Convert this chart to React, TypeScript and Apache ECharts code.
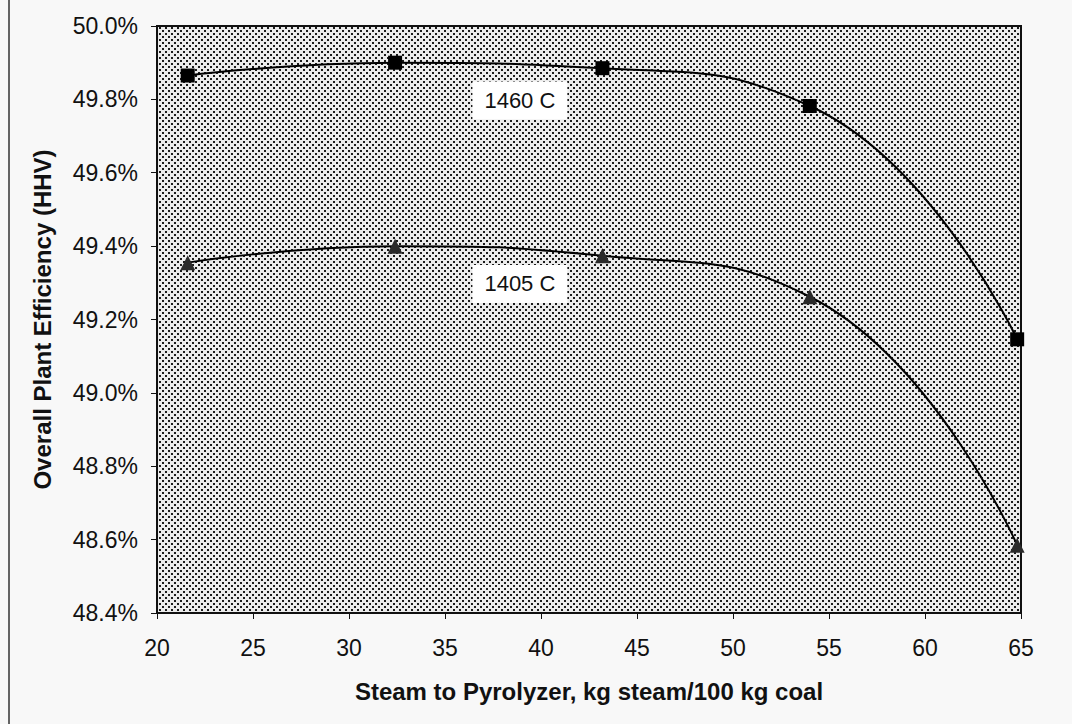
import React, { useEffect, useRef } from "react";
import * as echarts from "echarts";

const steam = [21.6, 32.4, 43.2, 54.0, 64.8];
const eff1460 = [49.865, 49.9, 49.885, 49.782, 49.146];
const eff1405 = [49.355, 49.4, 49.374, 49.262, 48.585];
const yTicks = { min: 48.4, max: 50.0, interval: 0.2 };
const xTicks = { min: 20, max: 65, interval: 5 };
const labels = [
  { name: "1460 C", x: 38.9, y: 49.797 },
  { name: "1405 C", x: 38.9, y: 49.297 },
];

function makePattern(): string {
  const c = document.createElement("canvas");
  c.width = 6;
  c.height = 6;
  const ctx = c.getContext("2d")!;
  ctx.fillStyle = "#ebebeb";
  ctx.fillRect(0, 0, 6, 6);
  ctx.fillStyle = "#1a1a1a";
  ctx.fillRect(0, 0, 2, 2);
  ctx.fillRect(3, 3, 2, 2);
  return c.toDataURL();
}

export default function App() {
  const ref = useRef<HTMLDivElement>(null);
  useEffect(() => {
    document.body.style.margin = "0";
    const chart = echarts.init(ref.current!, undefined, { renderer: "svg" });
    const pattern = makePattern();
    const font = "'Liberation Sans', Arial, sans-serif";
    const mkLabel = (l: { name: string; x: number; y: number }) => ({
      coord: [l.x, l.y],
      symbol: "rect",
      symbolSize: 1,
      itemStyle: { color: "rgba(0,0,0,0)" },
      label: {
        show: true,
        position: "inside",
        formatter: l.name,
        backgroundColor: "#ffffff",
        color: "#111",
        fontFamily: font,
        fontSize: 22,
        padding: [8, 12, 8, 12],
      },
    });
    chart.setOption({
      animation: false,
      backgroundColor: "#f8f8f8",
      grid: {
        left: 157,
        right: 51,
        top: 26,
        bottom: 111,
        show: true,
        backgroundColor: { image: pattern, repeat: "repeat" } as any,
        borderColor: "#111",
        borderWidth: 2,
      },
      xAxis: {
        type: "value",
        min: xTicks.min,
        max: xTicks.max,
        interval: xTicks.interval,
        name: "Steam to Pyrolyzer, kg steam/100 kg coal",
        nameLocation: "middle",
        nameGap: 66,
        nameTextStyle: { fontFamily: font, fontWeight: "bold", fontSize: 24, color: "#111" },
        axisLine: { show: true, lineStyle: { color: "#111", width: 2 } },
        axisTick: { show: true, length: 6, lineStyle: { color: "#111" } },
        axisLabel: { fontFamily: font, fontSize: 23, color: "#111", margin: 23 },
        splitLine: { show: false },
      },
      yAxis: {
        type: "value",
        min: yTicks.min,
        max: yTicks.max,
        interval: yTicks.interval,
        name: "Overall Plant Efficiency (HHV)",
        nameLocation: "middle",
        nameGap: 103,
        nameTextStyle: { fontFamily: font, fontWeight: "bold", fontSize: 24, color: "#111" },
        axisLine: { show: true, lineStyle: { color: "#111", width: 2 } },
        axisTick: { show: true, length: 6, lineStyle: { color: "#111" } },
        axisLabel: {
          fontFamily: font,
          fontSize: 23,
          color: "#111",
          margin: 19,
          formatter: (v: number) => v.toFixed(1) + "%",
        },
        splitLine: { show: false },
      },
      graphic: [
        { type: "line", shape: { x1: 9, y1: 0, x2: 9, y2: 724 }, style: { stroke: "#333", lineWidth: 1.5 } },
      ],
      series: [
        {
          type: "line",
          name: "1460 C",
          data: steam.map((x, i) => [x, eff1460[i]]),
          smooth: 0.5,
          symbol: "rect",
          symbolSize: 14,
          itemStyle: { color: "#000" },
          lineStyle: { color: "#000", width: 2 },
          markPoint: { data: [mkLabel(labels[0])] },
        },
        {
          type: "line",
          name: "1405 C",
          data: steam.map((x, i) => [x, eff1405[i]]),
          smooth: 0.5,
          symbol: "triangle",
          symbolSize: 15,
          itemStyle: { color: "#2a2a2a" },
          lineStyle: { color: "#000", width: 2 },
          markPoint: { data: [mkLabel(labels[1])] },
        },
      ],
    });
    return () => chart.dispose();
  }, []);
  return <div ref={ref} style={{ width: 1072, height: 724 }} />;
}
